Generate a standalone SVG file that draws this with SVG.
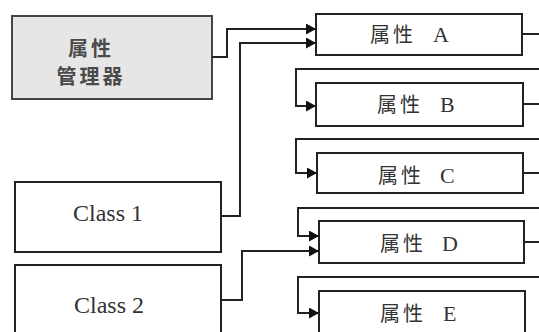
<svg xmlns="http://www.w3.org/2000/svg" width="539" height="332" viewBox="0 0 539 332">
<style>
.box{fill:#ffffff;stroke:#222;stroke-width:2}
.mgr{fill:#e6e6e6;stroke:#444;stroke-width:2}
.ln{fill:none;stroke:#222;stroke-width:2}
.cjk{font-family:"Liberation Serif","Noto Sans CJK SC",serif;font-size:20px;fill:#333;letter-spacing:3px}
.cjk tspan{font-size:22px;letter-spacing:0}
.lat{font-family:"Liberation Serif",serif;font-size:24px;fill:#333;text-anchor:middle}
.mgrt{font-family:"Noto Sans CJK SC",sans-serif;font-size:20px;font-weight:bold;fill:#4a4a4a;text-anchor:middle;letter-spacing:3px}
</style>
<defs>
<marker id="ah" markerUnits="userSpaceOnUse" markerWidth="11" markerHeight="11" refX="10" refY="5.5" orient="auto">
<path d="M0,0 L10,5.5 L0,11 z" fill="#111"/>
</marker>
</defs>
<g id="manager">
<rect class="mgr" x="12" y="16" width="200" height="83"/>
<text class="mgrt" x="91" y="56">属性</text>
<text class="mgrt" x="91" y="84">管理器</text>
</g>
<g id="class1">
<rect class="box" x="15" y="182" width="206" height="70"/>
<text class="lat" x="108" y="221">Class 1</text>
</g>
<g id="class2">
<rect class="box" x="15" y="265" width="206" height="80"/>
<text class="lat" x="109" y="313">Class 2</text>
</g>
<g id="attrA">
<rect class="box" x="316" y="14" width="206" height="41"/>
<text class="cjk" x="370" y="42">属性 <tspan x="433">A</tspan></text>
</g>
<g id="attrB">
<rect class="box" x="316" y="83" width="207" height="43"/>
<text class="cjk" x="377" y="112">属性 <tspan x="440">B</tspan></text>
</g>
<g id="attrC">
<rect class="box" x="317" y="153" width="206" height="40"/>
<text class="cjk" x="378" y="183">属性 <tspan x="440">C</tspan></text>
</g>
<g id="attrD">
<rect class="box" x="319" y="221" width="205" height="42"/>
<text class="cjk" x="380" y="251">属性 <tspan x="442">D</tspan></text>
</g>
<g id="attrE">
<rect class="box" x="319" y="291" width="206" height="54"/>
<text class="cjk" x="380" y="321">属性 <tspan x="443">E</tspan></text>
</g>
<g id="connectors">
<polyline class="ln" points="212,57 227,57 227,29 316,29" marker-end="url(#ah)"/>
<polyline class="ln" points="221,216 240,216 240,43 316,43" marker-end="url(#ah)"/>
<polyline class="ln" points="522,34 539,34"/>
<polyline class="ln" points="539,69 296,69 296,106 316,106" marker-end="url(#ah)"/>
<polyline class="ln" points="523,104 539,104"/>
<polyline class="ln" points="539,139 296,139 296,173 317,173" marker-end="url(#ah)"/>
<polyline class="ln" points="523,173 539,173"/>
<polyline class="ln" points="539,208 298,208 298,236 319,236" marker-end="url(#ah)"/>
<polyline class="ln" points="221,300 242,300 242,251 319,251" marker-end="url(#ah)"/>
<polyline class="ln" points="524,242 539,242"/>
<polyline class="ln" points="539,277 298,277 298,313 319,313" marker-end="url(#ah)"/>
</g>
</svg>
